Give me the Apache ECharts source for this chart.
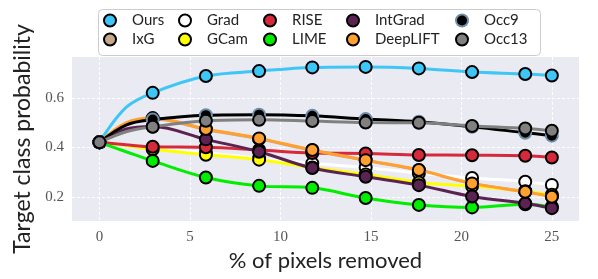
<!DOCTYPE html>
<html>
<head>
<meta charset="utf-8">
<script src="https://cdn.jsdelivr.net/npm/echarts@6/dist/echarts.min.js"></script>
<style>html,body{margin:0;padding:0;background:#fff;}#c{width:598px;height:279px;}</style>
</head>
<body>
<div id="c"></div>
<script>
// x positions of markers (% of pixels removed)
const xs = [0, 2.94, 5.88, 8.82, 11.76, 14.71, 17.65, 20.59, 23.53, 25];
const xTicks = [0, 5, 10, 15, 20, 25];
const yTicks = [0.2, 0.4, 0.6];

// series values at marker positions
const ours     = [0.42, 0.620, 0.688, 0.708, 0.723, 0.725, 0.719, 0.704, 0.696, 0.690];
const ixg      = [0.42, 0.515, 0.472, 0.434, 0.388, 0.347, 0.307, 0.254, 0.221, 0.201];
const grad     = [0.42, 0.398, 0.378, 0.355, 0.335, 0.318, 0.295, 0.276, 0.261, 0.248];
const gcam     = [0.42, 0.392, 0.370, 0.350, 0.318, 0.290, 0.258, 0.243, 0.222, 0.208];
const rise     = [0.42, 0.402, 0.400, 0.389, 0.377, 0.375, 0.369, 0.368, 0.366, 0.359];
const lime     = [0.42, 0.345, 0.278, 0.244, 0.236, 0.195, 0.167, 0.157, 0.170, 0.160];
const intgrad  = [0.42, 0.484, 0.432, 0.382, 0.316, 0.281, 0.247, 0.201, 0.173, 0.154];
const deeplift = [0.42, 0.518, 0.474, 0.436, 0.389, 0.348, 0.308, 0.254, 0.220, 0.200];
const occ9     = [0.42, 0.512, 0.530, 0.532, 0.527, 0.514, 0.503, 0.483, 0.459, 0.447];
const occ13    = [0.42, 0.483, 0.507, 0.511, 0.506, 0.500, 0.499, 0.486, 0.476, 0.467];

// extra line points read between 0 and the first marker
const mids = {
  Ours: [1.47, 0.561], IxG: [1.47, 0.497], Grad: [1.47, 0.410], GCam: [1.47, 0.407],
  RISE: [1.47, 0.410], LIME: [1.47, 0.382], IntGrad: [1.47, 0.474], DeepLIFT: [1.47, 0.499],
  Occ9: [1.47, 0.490], Occ13: [1.47, 0.463]
};

const names = ['Ours','IxG','Grad','GCam','RISE','LIME','IntGrad','DeepLIFT','Occ9','Occ13'];
const values = [ours, ixg, grad, gcam, rise, lime, intgrad, deeplift, occ9, occ13];
const colors = ['#3ec6f7','#c8a88a','#ffffff','#ffff00','#d62a3c','#00ee00','#5a2352','#ffa030','#000000','#808080'];
const edges  = ['#000','#000','#000','#000','#000','#000','#000','#000','#6f8ea8','#000'];

const series = names.map((n, i) => {
  const data = [];
  xs.forEach((x, j) => {
    data.push({ value: [x, values[i][j]] });
    if (j === 0) data.push({ value: mids[n], symbol: 'none' });
  });
  return {
    name: n, type: 'line', smooth: 0.35, data: data,
    symbol: 'circle', symbolSize: 12, showAllSymbol: true,
    lineStyle: { color: colors[i], width: 3 },
    itemStyle: { color: colors[i], borderColor: edges[i], borderWidth: 2 },
    emphasis: { disabled: true }, animation: false, z: 2 + i
  };
});

// legend columns (matplotlib column-major order)
const cols = [['Ours','IxG'],['Grad','GCam'],['RISE','LIME'],['IntGrad','DeepLIFT'],['Occ9','Occ13']];
const colCenters = [120, 195, 280, 363, 472];
const legends = cols.map((c, k) => ({
  orient: 'vertical', left: colCenters[k] - 17, top: 13,
  itemWidth: 34, itemHeight: 12, itemGap: 4, padding: 0,
  selectedMode: false,
  textStyle: { fontFamily: 'Lato', fontSize: 15, color: '#222', lineHeight: 15 },
  data: c.map(n => {
    const i = names.indexOf(n);
    return { name: n, icon: 'circle',
      itemStyle: { color: colors[i], borderColor: edges[i], borderWidth: 2 } };
  })
}));

const serif = "'Liberation Serif', 'DejaVu Serif', serif";
const chart = echarts.init(document.getElementById('c'), null, { renderer: 'canvas' });
chart.setOption({
  animation: false,
  backgroundColor: '#ffffff',
  graphic: [{
    type: 'rect', left: 98, top: 9, z: -1,
    shape: { width: 442, height: 46, r: 4 },
    style: { fill: '#ffffff', stroke: '#cccccc', lineWidth: 1 }
  }],
  legend: legends,
  grid: { left: 72, right: 19, top: 57, bottom: 58, show: true, backgroundColor: '#eaeaf2', borderWidth: 0 },
  xAxis: {
    type: 'value', min: -1.52, max: 26.5,
    name: '% of pixels removed', nameLocation: 'middle', nameGap: 24,
    nameTextStyle: { fontFamily: 'Lato', fontSize: 22, color: '#222' },
    axisLine: { show: false },
    axisTick: { show: false, customValues: xTicks },
    axisLabel: { customValues: xTicks, fontFamily: serif, fontSize: 15, color: '#555', margin: 9 },
    splitLine: { show: true, lineStyle: { color: '#ffffff', type: [3, 2], width: 1 } }
  },
  yAxis: {
    type: 'value', min: 0.102, max: 0.765,
    name: 'Target class probability', nameLocation: 'middle', nameGap: 36,
    nameTextStyle: { fontFamily: 'Lato', fontSize: 23, color: '#222' },
    axisLine: { show: false },
    axisTick: { show: false, customValues: yTicks },
    axisLabel: { customValues: yTicks, fontFamily: serif, fontSize: 15, color: '#555', margin: 8,
      formatter: v => v.toFixed(1) },
    splitLine: { show: true, lineStyle: { color: '#ffffff', type: [3, 2], width: 1 } }
  },
  series: series
});
</script>
</body>
</html>
